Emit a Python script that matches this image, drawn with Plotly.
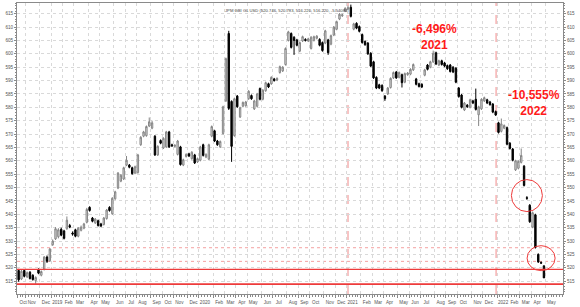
import pandas as pd
import plotly.graph_objects as go

# ---- data (weekly bars) ----
start_date = "2018-10-12"
open_ = [519.0,515.8,519.0,516.6,518.3,517.2,515.2,519.2,517.2,519.5,524.0,522.6,528.6,530.8,531.6,534.4,533.8,534.6,535.8,533.0,
         534.2,531.8,534.0,534.8,537.0,542.6,538.6,536.8,537.6,536.4,536.2,538.4,542.6,540.2,545.8,549.8,552.4,553.2,558.4,558.4,
         557.4,555.4,555.6,566.0,569.2,569.4,573.0,572.2,569.2,562.2,567.6,564.8,565.2,570.8,566.0,565.4,562.4,565.2,558.4,561.6,
         562.6,560.8,562.2,559.6,560.2,566.0,561.4,560.6,569.2,571.2,567.4,565.2,570.2,582.4,607.6,582.2,569.4,584.2,576.4,580.4,
         580.6,583.2,584.4,579.4,580.4,587.0,583.0,586.2,588.8,588.8,590.6,590.2,593.0,593.6,596.0,605.0,607.6,606.2,605.2,601.0,
         604.8,605.4,604.8,602.0,605.0,605.8,605.4,604.2,604.0,605.2,603.6,607.0,609.2,613.0,614.2,616.0,616.8,617.4,609.2,611.4,
         610.2,607.2,604.6,604.0,600.2,597.0,591.2,588.4,588.2,584.2,585.0,587.4,591.0,593.2,591.2,592.2,589.4,592.2,592.4,594.0,
         590.6,588.8,588.6,592.0,595.8,595.0,597.0,600.4,595.8,597.4,596.6,595.6,595.8,595.0,594.6,587.2,584.6,579.0,580.8,580.0,
         582.4,583.0,577.2,579.4,582.4,582.8,582.0,581.2,578.4,574.2,571.0,572.2,572.4,566.6,564.4,556.6,557.2,559.4,558.0,546.2,
         543.4,535.2,539.8,525.0,522.0,520.746]
high = [519.6,519.2,519.4,518.6,518.8,517.6,516.8,519.8,519.0,524.4,524.6,527.4,530.6,535.2,534.8,535.0,534.2,539.2,536.4,533.6,
        534.6,535.2,535.8,536.8,542.4,543.0,539.0,538.6,538.0,536.8,539.0,542.0,543.0,546.4,548.8,555.8,555.0,557.8,561.8,558.8,
        557.8,558.2,562.6,569.2,571.2,573.2,576.2,575.0,569.6,565.8,568.0,568.8,571.2,571.2,566.4,566.2,567.8,565.6,560.8,562.8,
        563.0,563.6,562.6,561.2,565.6,566.4,562.8,566.4,573.2,571.6,567.8,567.6,580.6,598.6,608.6,582.6,583.6,584.6,580.2,582.2,
        582.4,586.4,584.8,582.8,585.4,587.4,586.8,589.6,589.2,591.6,591.0,591.2,595.6,595.4,602.4,608.6,608.0,606.6,605.6,604.6,
        606.8,605.8,606.0,606.6,606.8,607.0,605.8,604.6,609.0,605.6,607.2,610.4,612.4,615.2,615.0,617.4,618.0,618.4,611.6,611.8,
        610.6,607.6,605.0,604.4,600.6,597.4,591.6,588.8,588.6,584.6,587.6,591.2,593.4,593.6,593.4,592.6,593.0,593.2,594.6,596.4,
        591.0,589.2,589.0,594.4,596.2,597.4,601.2,600.8,597.8,597.8,597.0,596.0,596.2,595.4,595.0,587.6,585.0,582.0,581.2,583.2,
        582.8,587.0,580.6,583.4,584.0,583.2,582.4,581.6,578.8,574.6,575.8,573.6,572.8,567.0,564.8,560.4,560.2,564.6,558.4,546.8,
        543.8,541.0,540.2,525.4,522.4,520.783]
low = [514.8,515.4,516.4,516.2,515.6,515.2,514.0,517.6,516.8,519.0,521.8,522.2,528.2,530.4,531.0,531.8,530.6,534.2,534.8,532.0,
       531.4,531.4,533.6,534.4,536.6,541.0,537.0,536.4,535.4,535.2,535.8,538.0,541.0,539.8,545.4,549.4,552.0,552.8,558.0,557.2,
       554.8,555.0,555.2,565.6,568.8,569.0,572.6,571.8,561.8,561.8,566.2,564.4,564.8,564.8,565.2,565.0,562.0,558.2,558.0,561.2,
       561.4,560.4,558.8,559.2,559.8,561.6,561.0,560.2,568.8,567.0,565.6,564.8,569.8,582.0,579.0,559.6,569.0,579.8,576.0,580.0,
       580.2,582.8,582.8,579.0,580.0,582.6,582.6,585.8,587.2,588.4,589.6,589.8,592.6,593.2,595.6,604.6,602.0,599.6,602.8,600.6,
       604.4,604.6,604.4,601.6,604.6,605.4,602.8,600.8,603.6,599.6,603.2,606.6,608.8,612.6,613.8,615.6,616.4,613.6,608.8,609.2,
       608.0,603.8,603.0,599.6,595.0,590.6,586.8,586.8,585.8,582.4,584.6,587.0,590.6,590.6,590.8,587.4,589.0,591.8,592.0,593.6,
       588.2,587.4,587.2,591.6,593.8,594.6,596.6,595.8,595.4,595.6,595.0,594.0,593.0,592.8,589.0,583.6,579.6,578.6,579.8,579.6,
       581.2,578.8,573.0,579.0,582.0,581.2,580.6,577.8,576.8,570.2,570.6,571.8,565.8,564.2,559.8,556.2,556.8,559.0,550.4,545.4,
       536.8,534.8,527.2,521.8,521.4,516.22]
close = [515.5,518.7,516.8,518.2,516.0,515.6,516.4,518.0,518.6,524.0,522.4,527.0,530.0,534.6,534.2,532.2,531.0,537.8,535.2,532.6,
         531.8,534.8,535.2,536.4,541.8,541.4,537.4,538.2,535.8,535.6,538.6,541.6,541.4,546.0,548.4,555.4,554.6,557.4,560.2,557.6,
         555.2,557.8,562.2,568.8,570.8,572.8,574.6,574.2,562.2,565.4,566.6,568.4,570.8,565.2,565.6,565.8,567.4,558.6,560.4,562.4,
         561.8,563.2,559.2,560.8,565.2,562.0,562.4,566.0,572.8,567.4,566.0,567.2,580.2,598.2,579.6,565.4,583.2,580.2,579.8,581.8,
         582.0,586.0,583.2,582.4,585.0,583.0,586.4,589.2,587.6,591.2,590.0,590.8,595.2,595.0,602.0,608.2,602.4,605.0,603.2,604.2,
         606.4,605.0,605.6,606.2,606.4,606.6,603.2,601.2,608.6,600.4,606.8,610.0,612.0,614.8,614.6,617.0,617.2,614.0,611.2,609.6,
         608.4,604.2,603.4,600.0,595.4,591.0,587.2,587.2,586.2,583.2,587.2,590.8,593.0,591.0,593.0,589.2,592.6,592.8,594.2,596.0,
         588.6,587.8,587.6,594.0,594.2,597.0,600.2,596.2,597.4,596.0,595.4,594.4,593.4,593.2,589.4,584.0,580.0,581.6,580.2,582.8,
         581.6,579.2,580.2,583.0,583.6,581.6,581.0,578.2,577.1,570.6,573.8,573.2,566.2,564.6,560.2,560.0,559.8,562.0,550.8,546.0,
         537.2,540.6,527.6,522.2,521.76,516.22]

level_lines = [519.4, 513.9]        # solid red
dotted_levels = [527.5, 522.4]      # dotted pink
year_marks = ["2021-01-01", "2022-01-01"]
month_names = ["Jan", "Feb", "Mar", "Apr", "May", "Jun", "Jul", "Aug", "Sep", "Oct", "Nov", "Dec"]
title_text = "JPM GBI GL USD (520.746, 520.783, 516.220, 516.220, -5.54084)"
perf_labels = [("-6,496%<br>2021", "2021-08-02", 606.2), ("-10,555%<br>2022", "2022-04-05", 581.6)]

dates = pd.date_range(start_date, periods=len(close), freq="7D")

# month boundary ticks (first bar of each month, half a bar earlier)
tickvals, ticktext = [], []
prev = None
for d in list(dates) + [dates[-1] + pd.Timedelta(days=7)]:
    key = (d.year, d.month)
    if key != prev:
        tickvals.append(d - pd.Timedelta(days=3.5))
        ticktext.append(str(d.year) if d.month == 1 else month_names[d.month - 1])
        prev = key

FONT = "Liberation Sans, Arial, sans-serif"
GRID = "#d9d9d9"
AX = "#8a8a8a"
RED = "#ee3b3b"

fig = go.Figure()
fig.add_trace(go.Candlestick(
    x=dates, open=open_, high=high, low=low, close=close,
    increasing=dict(fillcolor="#e4e4e4", line=dict(color="#858585", width=1)),
    decreasing=dict(fillcolor="#000000", line=dict(color="#000000", width=1)),
    whiskerwidth=0, hoverinfo="skip", showlegend=False,
))
# invisible trace for right axis
fig.add_trace(go.Scatter(x=[dates[0]], y=[close[0]], yaxis="y2", mode="markers",
                         marker=dict(opacity=0), showlegend=False, hoverinfo="skip"))

yr = [510.2, 619.0]
yt = list(range(515, 620, 5))
fig.update_layout(
    width=580, height=307,
    margin=dict(l=17, r=17, t=2, b=9),
    paper_bgcolor="white", plot_bgcolor="white",
    font=dict(family=FONT, size=5, color="#555555"),
    showlegend=False,
    xaxis=dict(
        type="date", range=["2018-10-08", "2022-06-15"],
        rangeslider=dict(visible=False),
        tickmode="array", tickvals=tickvals, ticktext=ticktext, tickangle=0,
        ticklabelshift=6, ticks="outside", ticklen=3, tickcolor=AX,
        tickfont=dict(size=4.6, color="#555555"),
        showgrid=True, gridcolor=GRID, griddash="dot", gridwidth=1,
        showline=True, linecolor=AX, linewidth=1, mirror=True,
        minor=dict(tickmode="linear", tick0="2018-10-08T12:00:00", dtick=7 * 86400000,
                   ticks="outside", ticklen=1.5, tickcolor=AX, showgrid=False),
        zeroline=False, fixedrange=True,
    ),
    yaxis=dict(
        range=yr, tickmode="array", tickvals=yt, ticktext=[str(v) for v in yt],
        ticks="outside", ticklen=2, tickcolor=AX,
        tickfont=dict(size=4.6, color="#555555"),
        showgrid=True, gridcolor=GRID, griddash="dot", gridwidth=1,
        showline=True, linecolor=AX, linewidth=1,
        minor=dict(tickmode="linear", tick0=510, dtick=1, ticks="outside", ticklen=1, tickcolor=AX, showgrid=False),
        zeroline=False, fixedrange=True,
    ),
    yaxis2=dict(
        range=yr, overlaying="y", side="right", tickmode="array", tickvals=yt,
        ticktext=[str(v) for v in yt], ticks="outside", ticklen=2, tickcolor=AX,
        tickfont=dict(size=4.6, color="#555555"),
        showgrid=False, showline=True, linecolor=AX, linewidth=1,
        minor=dict(tickmode="linear", tick0=510, dtick=1, ticks="outside", ticklen=1, tickcolor=AX),
        zeroline=False, fixedrange=True,
    ),
)

shapes = []
for lv, w in zip(level_lines, [1.2, 1.8]):
    shapes.append(dict(type="line", xref="paper", x0=0, x1=1, yref="y", y0=lv, y1=lv,
                       line=dict(color=RED, width=w), layer="above"))
for lv in dotted_levels:
    shapes.append(dict(type="line", xref="paper", x0=0, x1=1, yref="y", y0=lv, y1=lv,
                       line=dict(color="#f4a0a0", width=1, dash="dot"), layer="below"))
for d in year_marks:
    shapes.append(dict(type="line", xref="x", x0=d, x1=d, yref="paper", y0=0, y1=1,
                       line=dict(color="#f08a8a", width=1, dash="dash"), layer="below"))
# red circles around the last candles
for bar, val, rx, ry in [(179, 547.0, 15.5, 16), (184, 523.6, 14, 12.5)]:
    shapes.append(dict(type="circle", xref="x", yref="y", xsizemode="pixel", ysizemode="pixel",
                       xanchor=dates[bar], yanchor=val, x0=-rx, x1=rx, y0=-ry, y1=ry,
                       line=dict(color=RED, width=1)))
fig.update_layout(shapes=shapes)

for text, xd, yv in perf_labels:
    fig.add_annotation(text=text, x=xd, y=yv, xref="x", yref="y", showarrow=False,
                       font=dict(family=FONT, size=12, color="#ff1a1a", weight="bold"),
                       borderpad=0)
fig.add_annotation(text=title_text, xref="paper", yref="paper", x=0.495, y=0.99, showarrow=False,
                   font=dict(family=FONT, size=4.2, color="#444444"))

fig.write_html("out.html", config={"displayModeBar": False, "staticPlot": True})
